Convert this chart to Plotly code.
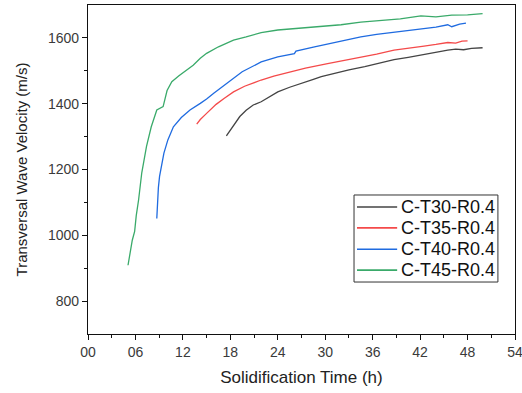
import plotly.graph_objects as go

# C-T30-R0.4
t30 = [17.5, 18.0, 18.6, 19.2, 20.0, 20.9, 21.9, 23.0, 24.0, 25.5, 27.0, 28.5, 29.5, 31.0, 33.0, 35.0, 36.5, 38.7, 40.5, 42.0, 43.5, 45.5, 46.5, 47.5, 48.5, 49.9]
v30 = [1302, 1320, 1340, 1361, 1380, 1396, 1406, 1422, 1436, 1450, 1463, 1474, 1482, 1492, 1503, 1513, 1521, 1534, 1541, 1548, 1555, 1563, 1566, 1564, 1568, 1570]

# C-T35-R0.4
t35 = [13.75, 14.2, 14.8, 15.4, 16.2, 17.2, 18.4, 19.8, 21.9, 23.5, 25.5, 27.5, 30.3, 32.5, 34.5, 36.5, 38.7, 40.5, 42.5, 44.0, 45.5, 46.5, 47.3, 48.0]
v35 = [1338, 1352, 1366, 1381, 1398, 1416, 1436, 1453, 1472, 1484, 1497, 1508, 1522, 1532, 1542, 1551, 1563, 1568, 1575, 1580, 1586, 1584, 1590, 1591]

# C-T40-R0.4
t40 = [8.7, 8.75, 8.8, 8.9, 9.05, 9.3, 9.6, 10.1, 10.8, 11.8, 12.9, 14.2, 15.0, 15.9, 16.9, 18.0, 19.5, 21.9, 24.0, 26.1, 26.3, 28.5, 30.5, 32.5, 34.5, 36.5, 38.5, 40.5, 42.1, 44.0, 45.5, 46.0, 47.0, 47.8]
v40 = [1051, 1080, 1108, 1145, 1179, 1218, 1250, 1290, 1330, 1358, 1381, 1401, 1414, 1432, 1450, 1472, 1497, 1527, 1542, 1552, 1560, 1572, 1583, 1592, 1603, 1611, 1617, 1623, 1628, 1633, 1640, 1634, 1642, 1645]

# C-T45-R0.4
t45 = [5.06, 5.3, 5.6, 5.9, 6.1, 6.4, 6.8, 7.4, 8.0, 8.7, 9.5, 10.0, 10.6, 11.5, 12.4, 13.3, 14.2, 15.0, 16.5, 18.4, 20.0, 21.9, 24.0, 27.0, 30.0, 32.0, 34.5, 37.0, 39.5, 42.1, 44.0, 46.0, 48.0, 49.9]
v45 = [909, 950, 985, 1012, 1060, 1108, 1190, 1270, 1330, 1381, 1391, 1440, 1467, 1485, 1502, 1517, 1538, 1553, 1573, 1593, 1603, 1616, 1624, 1630, 1637, 1640, 1648, 1652, 1658, 1667, 1664, 1669, 1670, 1674]

names = ["C-T30-R0.4", "C-T35-R0.4", "C-T40-R0.4", "C-T45-R0.4"]
colors = ["#444444", "#f44a4a", "#1f6be0", "#3aaa6a"]
series = [(t30, v30), (t35, v35), (t40, v40), (t45, v45)]

xticks = [0, 6, 12, 18, 24, 30, 36, 42, 48, 54]
xticklabels = ["00", "06", "12", "18", "24", "30", "36", "42", "48", "54"]
yticks = [800, 1000, 1200, 1400, 1600]

fig = go.Figure()
for (x, y), n, c in zip(series, names, colors):
    fig.add_trace(go.Scatter(x=x, y=y, mode="lines", name=n, showlegend=False,
                             line=dict(color=c, width=1.3)))

# manual legend (box, sample lines, labels) in paper coordinates
lg_x0, lg_x1, lg_y0, lg_y1 = 0.623, 0.960, 0.158, 0.4225
row_y = [0.386, 0.3225, 0.2575, 0.194]
shapes = [dict(type="rect", xref="paper", yref="paper", x0=lg_x0, x1=lg_x1, y0=lg_y0, y1=lg_y1,
               line=dict(color="#333333", width=1), fillcolor="white", layer="above")]
annotations = []
for n, c, ry in zip(names, colors, row_y):
    shapes.append(dict(type="line", xref="paper", yref="paper", x0=0.630, x1=0.724, y0=ry, y1=ry,
                       line=dict(color=c, width=1.6), layer="above"))
    annotations.append(dict(xref="paper", yref="paper", x=0.729, y=ry, xanchor="left", yanchor="middle",
                            text=n, showarrow=False, font=dict(size=18, color="#111111")))

font_family = "Liberation Sans, Arial, sans-serif"
fig.update_layout(
    width=522, height=393,
    margin=dict(l=88, r=7, t=5, b=59),
    paper_bgcolor="white", plot_bgcolor="white",
    font=dict(family=font_family, color="#222222"),
    shapes=shapes, annotations=annotations,
    xaxis=dict(range=[0, 54], tickvals=xticks, ticktext=xticklabels, automargin=False,
               showgrid=False, zeroline=False, showline=True, linecolor="#111111",
               linewidth=1.3, mirror=True, ticks="outside", ticklen=5,
               tickcolor="#111111", tickfont=dict(size=14, color="#3a3a3a"),
               ticklabeloverflow="allow",
               minor=dict(tickvals=[3, 9, 15, 21, 27, 33, 39, 45, 51], ticks="outside", ticklen=3, tickcolor="#111111"),
               title=dict(text="Solidification Time (h)", font=dict(size=17, color="#222222"), standoff=12)),
    yaxis=dict(range=[700, 1700], tickvals=yticks, automargin=False,
               showgrid=False, zeroline=False, showline=True, linecolor="#111111",
               linewidth=1.3, mirror=True, ticks="outside", ticklen=5,
               tickcolor="#111111", tickfont=dict(size=14, color="#3a3a3a"),
               minor=dict(tickvals=[900, 1100, 1300, 1500], ticks="outside", ticklen=3, tickcolor="#111111"),
               title=dict(text="Transversal Wave Velocity (m/s)", font=dict(size=15, color="#222222"), standoff=16)),
)

fig.write_html("out.html", config={"displayModeBar": False},
               post_script="document.body.style.margin='0px';")
